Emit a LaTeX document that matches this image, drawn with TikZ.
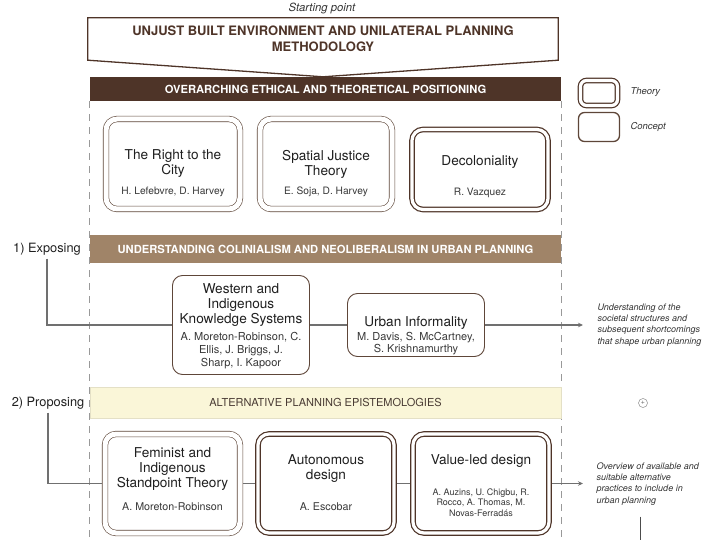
\documentclass[tikz,border=0pt]{standalone}
\usepackage{fontspec}
\setmainfont{TeX Gyre Heros}
\usepackage{tikz}
\usetikzlibrary{arrows.meta}

\definecolor{darkbrown}{HTML}{4E3428}
\definecolor{midbrown}{HTML}{A08468}
\definecolor{boxbrown}{HTML}{5E4639}
\definecolor{paleyellow}{HTML}{FAF6D8}
\definecolor{paleline}{HTML}{E4E0C6}
\definecolor{linegray}{HTML}{707070}
\definecolor{bandtext}{HTML}{4A3C34}

\begin{document}
\begin{tikzpicture}
[
    x = 1pt, y = -1pt,
    band/.style = {minimum width = 471pt, inner sep = 0pt, font = \fontsize{11.2}{13}\selectfont\bfseries, text = white},
    concept/.style = {draw = boxbrown, line width = 0.6pt, double = white, double distance = 5pt, rounded corners = 11pt, outer sep = 3.1pt, fill = white, inner sep = 0pt},
    theory/.style = {draw = darkbrown, line width = 1.2pt, double = white, double distance = 3.2pt, rounded corners = 11pt, outer sep = 2.8pt, fill = white, inner sep = 0pt},
    plain/.style = {draw = boxbrown, line width = 0.9pt, rounded corners = 10pt, fill = white, inner sep = 0pt},
    title/.style = {align = center, font = \fontsize{13.6}{15}\selectfont, text = black!88},
    author/.style = {align = center, font = \fontsize{10.2}{12.5}\selectfont, text = black!78},
    stage/.style = {font = \fontsize{12.8}{14}\selectfont, text = black!88},
    note/.style = {anchor = west, align = left, font = \fontsize{9}{11.2}\selectfont\itshape, text = black!80},
    legendtext/.style = {anchor = west, font = \fontsize{9.5}{11}\selectfont\itshape, text = black!80},
    link/.style = {draw = linegray, line width = 1.1pt},
    guide/.style = {draw = black!40, line width = 0.8pt, dash pattern = on 7pt off 6pt},
]
    \useasboundingbox (0,0) rectangle (702,540);

    % starting point
    \node[font = \fontsize{11.3}{12}\selectfont\itshape, text = black!80] (sp) at (322,9) {Starting point};
    \node[band, fill = darkbrown, minimum height = 24pt] (band1) at (325.5,89) {OVERARCHING ETHICAL AND THEORETICAL POSITIONING};
    \node[align = center, minimum width = 470pt, minimum height = 42pt, inner sep = 0pt,
          font = \fontsize{13}{15.5}\selectfont\bfseries, text = darkbrown] (start) at (323,39)
          {UNJUST BUILT ENVIRONMENT AND UNILATERAL PLANNING\\METHODOLOGY};
    \draw[draw = darkbrown, line width = 1.3pt] (start.north west) -- (start.north east) -- (start.south east)
        -- (start.south |- band1.north) -- (start.south west) -- cycle;

    % dashed guides
    \coordinate (bottom) at (0,540);
    \draw[guide] (band1.south west) -- (band1.south west |- bottom);
    \draw[guide] (band1.south east) -- (band1.south east |- bottom);

    % legend
    \node[theory, minimum width = 37pt, minimum height = 25pt, rounded corners = 6pt] (legtheory) at (599,93) {};
    \node[legendtext] (legtheorytext) at (627,92) {Theory};
    \node[plain, line width = 1.3pt, minimum width = 41pt, minimum height = 29pt, rounded corners = 6pt] (legconcept) at (599,127) {};
    \node[legendtext] (legconcepttext) at (627,127) {Concept};

    % positioning
    \node[concept, minimum width = 134pt, minimum height = 90pt] (rtc) at (173,164) {};
    \node[title] (rtctitle) at (173,164) {The Right to the\\City};
    \node[author] (rtcauthor) at (173,192) {H. Lefebvre, D. Harvey};

    \node[concept, minimum width = 132pt, minimum height = 90pt] (sjt) at (326,164) {};
    \node[title] (sjttitle) at (326,164) {Spatial Justice\\Theory};
    \node[author] (sjtauthor) at (326,192) {E. Soja, D. Harvey};

    \node[theory, minimum width = 136pt, minimum height = 80pt] (deco) at (480,169.5) {};
    \node[title] (decotitle) at (480,162) {Decoloniality};
    \node[author] (decoauthor) at (480,193) {R. Vazquez};

    % exposing
    \node[band, fill = midbrown, minimum height = 28pt] (band2) at (325.5,249) {UNDERSTANDING COLINIALISM AND NEOLIBERALISM IN URBAN PLANNING};
    \node[stage] (expo) at (47,249) {1) Exposing};

    \node[plain, minimum width = 137pt, minimum height = 99pt] (wks) at (241,325) {};
    \node[title] (wkstitle) at (241,305.5) {Western and\\Indigenous\\Knowledge Systems};
    \node[author, font = \fontsize{11}{13}\selectfont] (wksauthor) at (241,351) {A. Moreton-Robinson, C.\\Ellis, J. Briggs, J.\\Sharp, I. Kapoor};

    \node[plain, minimum width = 137pt, minimum height = 63pt] (ui) at (416,325) {};
    \node[title] (uititle) at (416,323) {Urban Informality};
    \node[author, font = \fontsize{11}{12}\selectfont] (uiauthor) at (416,343.5) {M. Davis, S. McCartney,\\S. Krishnamurthy};

    \node[note] (note1) at (594,325) {Understanding of the\\societal structures and\\subsequent shortcomings\\that shape urban planning};
    \coordinate (out1) at (583,325);

    \draw[link] (expo.south) |- (wks.west);
    \draw[link] (wks.east) -- (ui.west);
    \draw[link, -{Stealth[length = 5pt, width = 4.5pt]}] (ui.east) -- (out1);

    % proposing
    \node[band, fill = paleyellow, draw = paleline, line width = 0.5pt, minimum height = 31pt,
          font = \fontsize{11}{13}\selectfont, text = bandtext] (band3) at (325.5,402.5) {ALTERNATIVE PLANNING EPISTEMOLOGIES};
    \node[stage] (prop) at (48,403) {2) Proposing};
    \node[circle, draw = black!45, line width = 0.5pt, minimum size = 9pt, inner sep = 0pt,
          font = \fontsize{7}{7}\selectfont, text = black!60] (plus) at (643,403) {+};

    \node[concept, minimum width = 135pt, minimum height = 99pt] (fem) at (172.5,483.5) {};
    \node[title] (femtitle) at (172.5,469.5) {Feminist and\\Indigenous\\Standpoint Theory};
    \node[author, font = \fontsize{10.7}{12.5}\selectfont] (femauthor) at (172.5,507) {A. Moreton-Robinson};

    \node[theory, minimum width = 136pt, minimum height = 99pt] (aut) at (326,483.5) {};
    \node[title] (auttitle) at (326,468.5) {Autonomous\\design};
    \node[author, font = \fontsize{10.7}{12.5}\selectfont] (autauthor) at (326,507) {A. Escobar};

    \node[theory, minimum width = 136pt, minimum height = 99pt] (val) at (481,483.5) {};
    \node[title] (valtitle) at (481,461) {Value-led design};
    \node[author, font = \fontsize{9}{10.5}\selectfont] (valauthor) at (481,502.5) {A. Auzins, U. Chigbu, R.\\Rocco, A. Thomas, M.\\Novas-Ferradás};

    \node[note] (note2) at (593,484) {Overview of available and\\suitable alternative\\practices to include in\\urban planning};
    \coordinate (out2) at (583,483.5);
    \coordinate (note2end) at (640,540);

    \draw[link] (prop.south) |- (fem.west);
    \draw[link] (fem.east) -- (aut.west);
    \draw[link] (aut.east) -- (val.west);
    \draw[link, -{Stealth[length = 5pt, width = 4.5pt]}] (val.east) -- (out2);
    \draw[draw = black!70, line width = 1pt] ([yshift = -8pt]note2end |- note2.south) -- (note2end);
\end{tikzpicture}
\end{document}
